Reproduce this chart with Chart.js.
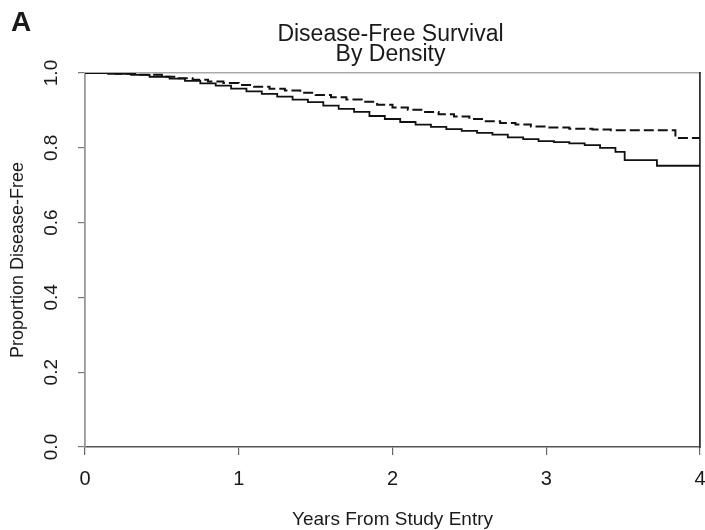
<!DOCTYPE html>
<html>
<head>
<meta charset="utf-8">
<script src="https://cdn.jsdelivr.net/npm/chart.js@4"></script>
<style>
  html, body { margin: 0; padding: 0; background: #fff; }
  #wrap { width: 705px; height: 530px; }
</style>
</head>
<body>
<div id="wrap"><canvas id="dfs"></canvas></div>
<script>
// --- data (years, proportion disease-free) ---
const lowTimes = [0, 0.15, 0.3, 0.42, 0.55, 0.65, 0.75, 0.85, 0.95, 1.05, 1.15, 1.25, 1.35, 1.45, 1.55,
    1.65, 1.75, 1.85, 1.95, 2.05, 2.15, 2.25, 2.35, 2.45, 2.55, 2.65, 2.75, 2.85, 2.95, 3.05, 3.15,
    3.25, 3.35, 3.45, 3.51, 3.72, 4.0];
const lowSurv = [1.0, 0.998, 0.995, 0.99, 0.985, 0.979, 0.972, 0.966, 0.958, 0.951, 0.944, 0.937, 0.929,
    0.922, 0.913, 0.904, 0.896, 0.885, 0.877, 0.869, 0.862, 0.856, 0.85, 0.845, 0.84, 0.835, 0.828,
    0.823, 0.818, 0.815, 0.812, 0.807, 0.80, 0.789, 0.767, 0.752, 0.752];

const highTimes = [0, 0.2, 0.35, 0.5, 0.6, 0.7, 0.8, 0.9, 1.0, 1.1, 1.2, 1.3, 1.4, 1.5, 1.6, 1.7, 1.8,
    1.9, 2.0, 2.1, 2.2, 2.3, 2.4, 2.5, 2.6, 2.7, 2.8, 2.9, 3.0, 3.15, 3.3, 3.42, 3.84, 4.0];
const highSurv = [1.0, 0.998, 0.995, 0.99, 0.986, 0.982, 0.977, 0.973, 0.968, 0.963, 0.958, 0.953, 0.947,
    0.941, 0.935, 0.929, 0.923, 0.915, 0.908, 0.902, 0.896, 0.89, 0.884, 0.877, 0.871, 0.866, 0.862,
    0.857, 0.854, 0.851, 0.849, 0.847, 0.826, 0.826];

const xTicks = [0, 1, 2, 3, 4];
const yTicks = [0.0, 0.2, 0.4, 0.6, 0.8, 1.0];

const panelLabel = 'A';
const titleLines = ['Disease-Free Survival', 'By Density'];
const xTitle = 'Years From Study Entry';
const yTitle = 'Proportion Disease-Free';

const FONT = "'Liberation Sans', Arial, Helvetica, sans-serif";
const INK = '#1a1a1a';

function toPoints(times, values) {
    return times.map((t, i) => ({ x: t, y: values[i] }));
}

// panel letter + two-line title centred over the plot area
const headerPlugin = {
    id: 'header',
    afterDraw(chart) {
        const ctx = chart.ctx;
        const area = chart.chartArea;
        const cx = (area.left + area.right) / 2 - 2;
        ctx.save();
        ctx.fillStyle = INK;
        ctx.textBaseline = 'alphabetic';
        ctx.textAlign = 'left';
        ctx.font = `bold 28px ${FONT}`;
        ctx.fillText(panelLabel, 11, 31);
        ctx.textAlign = 'center';
        ctx.font = `23px ${FONT}`;
        ctx.fillText(titleLines[0], cx, 41);
        ctx.fillText(titleLines[1], cx, 61);
        ctx.restore();
    }
};

const ctx = document.getElementById('dfs').getContext('2d');
new Chart(ctx, {
    type: 'line',
    data: {
        datasets: [
            {
                label: 'low density',
                data: toPoints(lowTimes, lowSurv),
                borderColor: '#111',
                borderWidth: 1.8,
                stepped: true,
                pointRadius: 0,
                fill: false
            },
            {
                label: 'high density',
                data: toPoints(highTimes, highSurv),
                borderColor: '#111',
                borderWidth: 2,
                borderDash: [10, 4],
                stepped: true,
                pointRadius: 0,
                fill: false
            }
        ]
    },
    options: {
        responsive: true,
        maintainAspectRatio: false,
        animation: false,
        layout: { padding: { top: 73, right: 5, bottom: 0, left: 0 } },
        plugins: {
            legend: { display: false },
            title: { display: false },
            tooltip: { enabled: false }
        },
        scales: {
            x: {
                type: 'linear',
                min: 0, max: 4,
                afterBuildTicks: s => { s.ticks = xTicks.map(v => ({ value: v })); },
                afterFit: s => { s.height = 83; s.paddingRight = 0; s.paddingLeft = 0; },
                grid: { drawOnChartArea: false, drawTicks: true, tickLength: 8, color: '#666', lineWidth: 1.2 },
                border: { display: true, color: '#555', width: 1.5 },
                ticks: {
                    color: INK,
                    font: { family: FONT, size: 20 },
                    padding: 12,
                    maxRotation: 0,
                    callback: v => String(v)
                },
                title: {
                    display: true,
                    text: xTitle,
                    color: INK,
                    font: { family: FONT, size: 19, lineHeight: 1.0 },
                    padding: { top: 0, bottom: 0.5 }
                }
            },
            y: {
                type: 'linear',
                min: 0, max: 1,
                afterBuildTicks: s => { s.ticks = yTicks.map(v => ({ value: v })); },
                afterFit: s => { s.width = 85; },
                grid: { drawOnChartArea: false, drawTicks: true, tickLength: 7, color: '#777', lineWidth: 1.2 },
                border: { display: true, color: '#999', width: 1.8 },
                ticks: {
                    color: INK,
                    font: { family: FONT, size: 19 },
                    padding: 13,
                    minRotation: 90,
                    maxRotation: 90,
                    crossAlign: 'center',
                    callback: v => v.toFixed(1)
                },
                title: {
                    display: true,
                    text: yTitle,
                    color: INK,
                    font: { family: FONT, size: 18 },
                    padding: { top: 7, bottom: 0 }
                }
            },
            xTop: {
                type: 'linear',
                position: 'top',
                min: 0, max: 4,
                afterFit: s => { s.height = 0; s.paddingLeft = 0; s.paddingRight = 0; },
                grid: { display: false },
                ticks: { display: false },
                border: { display: true, color: '#aaa', width: 1.5 }
            },
            yRight: {
                type: 'linear',
                position: 'right',
                min: 0, max: 1,
                afterFit: s => { s.width = 0; },
                grid: { display: false },
                ticks: { display: false },
                border: { display: true, color: '#333', width: 1.8 }
            }
        }
    },
    plugins: [headerPlugin]
});
</script>
</body>
</html>
